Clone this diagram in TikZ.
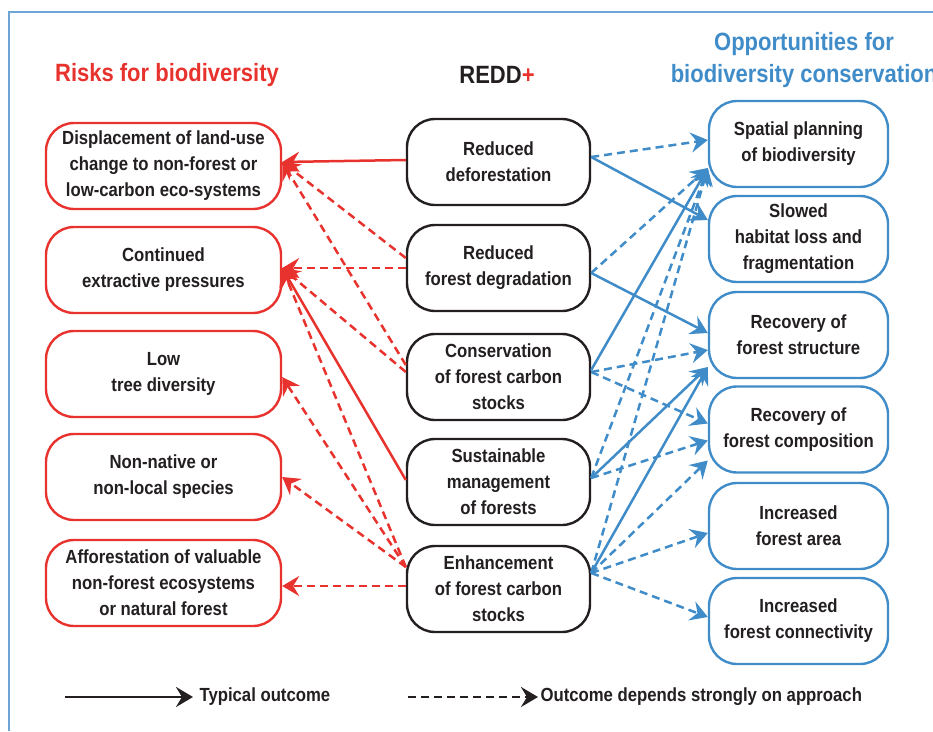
\documentclass[tikz,border=0pt]{standalone}
\usepackage{fontspec}
\setmainfont{Liberation Sans}[FakeStretch=0.88]
\usetikzlibrary{arrows.meta}
\definecolor{riskred}{RGB}{232,50,45}
\definecolor{oppblue}{RGB}{64,140,200}
\definecolor{frameblue}{RGB}{110,165,215}
\definecolor{txtblack}{RGB}{35,31,32}
\tikzset{
  box/.style={rounded corners=28pt, line width=2.4pt, align=center, minimum height=86pt,
    text=txtblack, font=\fontsize{19}{26}\selectfont\bfseries},
  riskbox/.style={box, draw=riskred, minimum width=235pt},
  reddbox/.style={box, draw=txtblack, minimum width=183pt},
  oppbox/.style={box, draw=oppblue, minimum width=179pt},
  headtip/.style={-{Stealth[length=17pt,width=20pt,inset=6pt]}},
  typical/.style={headtip, line width=2.5pt},
  depends/.style={headtip, line width=2.5pt, dash pattern=on 8pt off 5pt},
  titletext/.style={font=\fontsize{25}{32}\selectfont\bfseries, align=center},
  legendtext/.style={anchor=west, text=txtblack, font=\fontsize{19}{26}\selectfont\bfseries}
}
\begin{document}
\begin{tikzpicture}[x=1pt,y=-1pt]
    \useasboundingbox (0,0) rectangle (933,731);
    \draw [frameblue, line width=1.2pt] (9,731) -- (9,12) -- (933,12);
    \node [titletext, text=riskred] (risktitle) at (167,75) {Risks for biodiversity};
    \node [titletext, text=txtblack] (reddtitle) at (497,75) {REDD\textcolor{riskred}{+}};
    \node [titletext, text=oppblue] (opptitle) at (804,60) {Opportunities for\\biodiversity conservation};
    \node [riskbox] (L1) at (163.5,166) {Displacement of land-use\\change to non-forest or\\low-carbon eco-systems};
    \node [riskbox] (L2) at (163.5,270) {Continued\\extractive pressures};
    \node [riskbox] (L3) at (163.5,374) {Low\\tree diversity};
    \node [riskbox] (L4) at (163.5,477) {Non-native or\\non-local species};
    \node [riskbox] (L5) at (163.5,583) {Afforestation of valuable\\non-forest ecosystems\\or natural forest};
    \node [reddbox] (M1) at (498.5,162) {Reduced\\deforestation};
    \node [reddbox] (M2) at (498.5,268) {Reduced\\forest degradation};
    \node [reddbox] (M3) at (498.5,377) {Conservation\\of forest carbon\\stocks};
    \node [reddbox] (M4) at (498.5,482) {Sustainable\\management\\of forests};
    \node [reddbox] (M5) at (498.5,589) {Enhancement\\of forest carbon\\stocks};
    \node [oppbox] (R1) at (798.5,144) {Spatial planning\\of biodiversity};
    \node [oppbox] (R2) at (798.5,239) {Slowed\\habitat loss and\\fragmentation};
    \node [oppbox] (R3) at (798.5,335) {Recovery of\\forest structure};
    \node [oppbox] (R4) at (798.5,429.5) {Recovery of\\forest composition};
    \node [oppbox] (R5) at (798.5,526) {Increased\\forest area};
    \node [oppbox] (R6) at (798.5,621) {Increased\\forest connectivity};
    \draw [typical, riskred] ([yshift=2pt]M1.west) -- ([yshift=4pt]L1.east);
    \draw [depends, riskred] ([yshift=10pt]M2.west) -- ([yshift=4pt]L1.east);
    \draw [depends, riskred] ([yshift=12pt]M3.west) -- ([yshift=4pt]L1.east);
    \draw [depends, riskred] (M2.west) -- ([yshift=2pt]L2.east);
    \draw [depends, riskred] ([yshift=5pt]M3.west) -- ([yshift=2pt]L2.east);
    \draw [typical, riskred] ([yshift=2pt]M4.west) -- ([yshift=2pt]L2.east);
    \draw [depends, riskred] ([yshift=22pt]M5.west) -- ([yshift=2pt]L2.east);
    \draw [depends, riskred] ([yshift=22pt]M5.west) -- ([yshift=-3pt]L3.east);
    \draw [depends, riskred] ([yshift=22pt]M5.west) -- (L4.east);
    \draw [depends, riskred] ([yshift=3pt]M5.west) -- ([yshift=-3pt]L5.east);
    \draw [depends, oppblue] ([yshift=5pt]M1.east) -- ([yshift=4pt]R1.west);
    \draw [typical, oppblue] ([yshift=5pt]M1.east) -- ([yshift=19pt]R2.west);
    \draw [depends, oppblue] ([yshift=-5pt]M2.east) -- ([yshift=-24pt]R1.west);
    \draw [typical, oppblue] ([yshift=-5pt]M2.east) -- ([yshift=2pt]R3.west);
    \draw [typical, oppblue] ([yshift=7pt]M3.east) -- ([yshift=-24pt]R1.west);
    \draw [depends, oppblue] ([yshift=5pt]M3.east) -- ([yshift=-15pt]R3.west);
    \draw [depends, oppblue] ([yshift=5pt]M3.east) -- ([yshift=6pt]R4.west);
    \draw [depends, oppblue] ([yshift=4pt]M4.east) -- ([yshift=-24pt]R1.west);
    \draw [typical, oppblue] ([yshift=4pt]M4.east) -- ([yshift=-32pt]R3.west);
    \draw [depends, oppblue] ([yshift=4pt]M4.east) -- ([yshift=-11pt]R4.west);
    \draw [depends, oppblue] ([yshift=16pt]M5.east) -- ([yshift=-24pt]R1.west);
    \draw [typical, oppblue] ([yshift=16pt]M5.east) -- ([yshift=-32pt]R3.west);
    \draw [depends, oppblue] ([yshift=16pt]M5.east) -- ([yshift=-31pt]R4.west);
    \draw [depends, oppblue] ([yshift=16pt]M5.east) -- ([yshift=-7pt]R5.west);
    \draw [depends, oppblue] ([yshift=16pt]M5.east) -- ([yshift=4pt]R6.west);
    \coordinate (typstart) at (65,697);
    \coordinate (typend) at (193,697);
    \coordinate (depstart) at (408,697);
    \coordinate (depend) at (538,697);
    \draw [typical, txtblack] (typstart) -- (typend);
    \node [legendtext] (typlabel) at (196,697) {Typical outcome};
    \draw [depends, txtblack] (depstart) -- (depend);
    \node [legendtext] (deplabel) at (537,697) {Outcome depends strongly on approach};
\end{tikzpicture}
\end{document}
